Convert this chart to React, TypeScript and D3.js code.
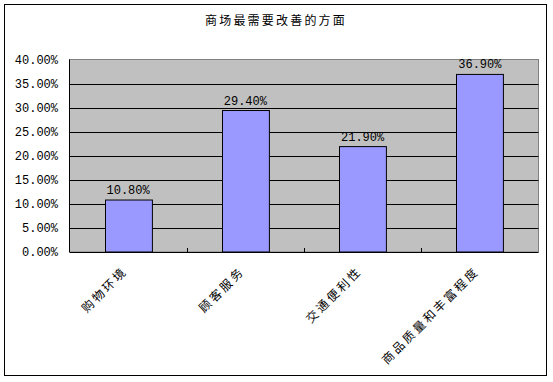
import React from "react";
import * as d3 from "d3";

const title = "商场最需要改善的方面";
const categories = ["购物环境", "顾客服务", "交通便利性", "商品质量和丰富程度"];
const values = [10.8, 29.4, 21.9, 36.9];
const yTicks = [0, 5, 10, 15, 20, 25, 30, 35, 40];

export default function App() {
  const W = 553, H = 382;
  const left = 69.5, right = 538.5, top = 59.5, bottom = 252;
  const x = d3.scaleBand<string>().domain(categories).range([left, right]).paddingInner(0.6).paddingOuter(0.3);
  const xb = d3.scaleBand<string>().domain(categories).range([left, right]);
  const y = d3.scaleLinear().domain([0, 40]).range([bottom, top]);
  const numFont = "'Liberation Mono', 'DejaVu Sans Mono', monospace";
  const cjkFont = "'Noto Sans CJK SC', sans-serif";
  return (
    <svg width={W} height={H} style={{ position: "absolute", left: 0, top: 0, background: "#fff" }}>
      <rect x={4.5} y={4.5} width={542} height={371} fill="#fff" stroke="#000" strokeWidth={1} />
      <text x={276} y={25} textAnchor="middle" fontFamily={cjkFont} fontSize={12} letterSpacing={2.2} fill="#000">{title}</text>
      <rect x={left} y={top} width={right - left} height={bottom - top} fill="#C0C0C0" stroke="#808080" strokeWidth={1} />
      {yTicks.map((t) => (
        <g key={t}>
          {t > 0 && t < 40 && <line x1={left} x2={right} y1={Math.round(y(t)) + 0.5} y2={Math.round(y(t)) + 0.5} stroke="#000" strokeWidth={1} />}
          <text x={58} y={y(t) + 4} textAnchor="end" fontFamily={numFont} fontSize={12} fill="#000">{t.toFixed(2)}%</text>
        </g>
      ))}
      {categories.map((c, i) => (
        <g key={c}>
          <rect x={Math.round(x(c)!) + 0.5} y={y(values[i])} width={x.bandwidth()} height={bottom - y(values[i])} fill="#9999FF" stroke="#000" strokeWidth={1} />
          <text x={x(c)! + x.bandwidth() / 2} y={y(values[i]) - 6} textAnchor="middle" fontFamily={numFont} fontSize={12} fill="#000">{values[i].toFixed(2)}%</text>
        </g>
      ))}
      {categories.map((c, i) => i > 0 && (
        <line key={"t" + c} x1={Math.round(xb(c)!) + 0.5} x2={Math.round(xb(c)!) + 0.5} y1={bottom - 4} y2={bottom} stroke="#000" />
      ))}
      <line x1={left} x2={left} y1={top} y2={bottom} stroke="#000" />
      <line x1={left} x2={right} y1={bottom + 0.5} y2={bottom + 0.5} stroke="#000" />
      {categories.map((c) => {
        const cx = xb(c)! + xb.bandwidth() / 2;
        const cy = bottom + 20;
        return (
          <text key={"l" + c} transform={`translate(${cx},${cy}) rotate(-45)`} textAnchor="end" fontFamily={cjkFont} fontSize={12} letterSpacing={2.6} fill="#000">{c}</text>
        );
      })}
    </svg>
  );
}
